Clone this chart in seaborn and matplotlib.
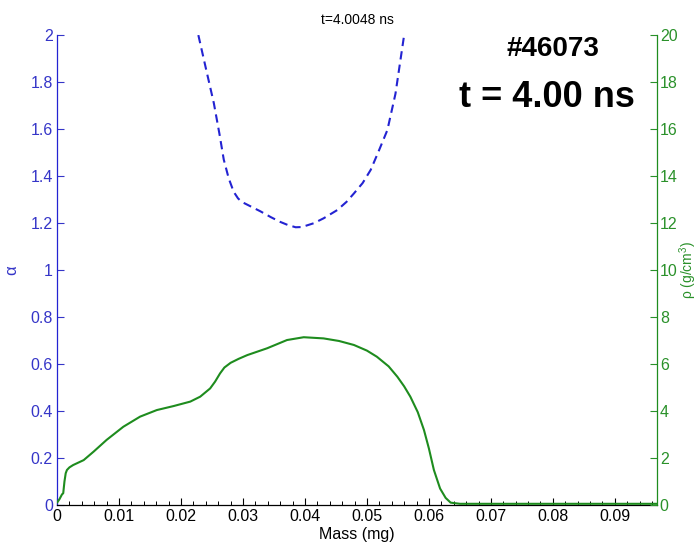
import matplotlib
matplotlib.use("Agg")
import matplotlib.pyplot as plt
import seaborn as sns
import pandas as pd
from matplotlib.ticker import MultipleLocator

# ---- data ----
alpha_mass = [0.0228, 0.0240, 0.0253, 0.0262, 0.0269, 0.0277, 0.0285, 0.0292, 0.0298,
              0.0313, 0.0328, 0.0345, 0.0360, 0.0372, 0.0385, 0.0395, 0.0414, 0.0430,
              0.0452, 0.0467, 0.0479, 0.0493, 0.0506, 0.0518, 0.0533, 0.0546, 0.0560]
alpha_vals = [2.00, 1.86, 1.71, 1.58, 1.47, 1.39, 1.333, 1.305, 1.29,
              1.27, 1.25, 1.225, 1.205, 1.192, 1.182, 1.183, 1.199, 1.22,
              1.255, 1.29, 1.326, 1.37, 1.426, 1.50, 1.596, 1.75, 2.00]

rho_mass = [0.0000, 0.0004, 0.0008, 0.0010, 0.0012, 0.0014, 0.0016, 0.0020, 0.0026,
            0.0043, 0.0059, 0.0080, 0.0107, 0.0134, 0.0161, 0.0188, 0.0215, 0.0231,
            0.0247, 0.0255, 0.0263, 0.0270, 0.0280, 0.0293, 0.0307, 0.0339, 0.0371,
            0.0398, 0.0430, 0.0455, 0.0479, 0.0500, 0.0516, 0.0535, 0.0549, 0.0560,
            0.0570, 0.0582, 0.0592, 0.0600, 0.0608, 0.0618, 0.0627, 0.0635, 0.0650,
            0.0700, 0.0800, 0.0900, 0.0968]
rho_vals = [0.10, 0.25, 0.45, 0.50, 1.00, 1.35, 1.49, 1.60, 1.70,
            1.91, 2.27, 2.77, 3.33, 3.76, 4.04, 4.21, 4.40, 4.61,
            4.96, 5.25, 5.60, 5.85, 6.05, 6.22, 6.38, 6.67, 7.02,
            7.14, 7.09, 6.98, 6.81, 6.57, 6.31, 5.90, 5.46, 5.05,
            4.61, 3.95, 3.19, 2.40, 1.49, 0.70, 0.30, 0.10, 0.05,
            0.05, 0.05, 0.05, 0.05]

x_ticks = [0, 0.01, 0.02, 0.03, 0.04, 0.05, 0.06, 0.07, 0.08, 0.09]
alpha_ticks = [0, 0.2, 0.4, 0.6, 0.8, 1, 1.2, 1.4, 1.6, 1.8, 2]
rho_ticks = [0, 2, 4, 6, 8, 10, 12, 14, 16, 18, 20]

df_alpha = pd.DataFrame({"mass": alpha_mass, "alpha": alpha_vals})
df_rho = pd.DataFrame({"mass": rho_mass, "rho": rho_vals})

sns.set_style("white")
plt.rcParams["font.family"] = ["Liberation Sans", "DejaVu Sans"]
plt.rcParams["mathtext.fontset"] = "custom"
plt.rcParams["mathtext.rm"] = "Liberation Sans"
plt.rcParams["text.color"] = "black"
plt.rcParams["axes.labelcolor"] = "black"

BLUE = "#2323d2"
GREEN = "#1e8c1e"
BLUE_TXT = "#3535c8"
GREEN_TXT = "#2a912a"

fig = plt.figure(figsize=(6.98, 5.48), dpi=100)
ax = fig.add_axes([0.0817, 0.0785, 0.8596, 0.8575])
ax2 = ax.twinx()

sns.lineplot(data=df_alpha, x="mass", y="alpha", ax=ax, color=BLUE,
             linewidth=1.5, estimator=None, sort=False)
ax.lines[0].set_dashes([4.0, 2.5])
sns.lineplot(data=df_rho, x="mass", y="rho", ax=ax2, color=GREEN,
             linewidth=1.5, estimator=None, sort=False)

ax.set_xlim(0, 0.0968)
ax.set_ylim(0, 2)
ax2.set_ylim(0, 20)
ax.set_xticks(x_ticks)
ax.set_xticklabels([f"{t:g}" for t in x_ticks])
ax.xaxis.set_minor_locator(MultipleLocator(0.002))
ax.set_yticks(alpha_ticks)
ax.set_yticklabels([f"{t:g}" for t in alpha_ticks])
ax2.set_yticks(rho_ticks)
ax2.set_yticklabels([f"{t:g}" for t in rho_ticks])

for a in (ax, ax2):
    a.spines["top"].set_visible(False)
    a.set_facecolor("none")
ax.spines["right"].set_visible(False)
ax2.spines["left"].set_visible(False)
ax2.spines["bottom"].set_visible(False)
ax.spines["left"].set_color(BLUE)
ax.spines["bottom"].set_color("black")
ax2.spines["right"].set_color(GREEN)
for sp in ("left", "bottom"):
    ax.spines[sp].set_linewidth(0.9)
ax2.spines["right"].set_linewidth(0.9)

ax.tick_params(axis="x", which="major", direction="in", length=5, width=0.8,
               labelsize=11.5, pad=3, colors="black", top=False, bottom=True)
ax.tick_params(axis="x", which="minor", direction="in", length=3, width=0.7,
               colors="black", bottom=True)
ax.tick_params(axis="y", direction="in", length=5, width=0.8, labelsize=11.5,
               colors=BLUE_TXT, left=True, pad=3)
ax2.tick_params(axis="y", direction="in", length=5, width=0.8, labelsize=11.5,
                colors=GREEN_TXT, right=True, pad=2)

ax.set_xlabel("Mass (mg)", fontsize=11.5, labelpad=2, color="black")
ax.set_ylabel("α", fontsize=12, color=BLUE_TXT, labelpad=8)
ax2.set_ylabel("ρ (g/cm$^3$)", fontsize=10, color=GREEN_TXT, labelpad=0)

ax.set_title("t=4.0048 ns", fontsize=10, pad=8, color="black")

fig.text(0.792, 0.910, "#46073", fontsize=20, fontweight="bold",
         ha="center", va="center", color="black")
fig.text(0.783, 0.822, "t = 4.00 ns", fontsize=26, fontweight="bold",
         ha="center", va="center", color="black")

fig.savefig("out.png", dpi=100)
